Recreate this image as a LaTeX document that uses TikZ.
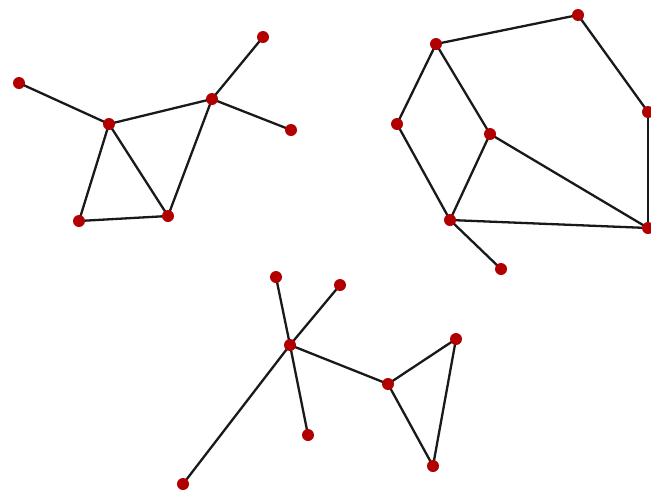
\documentclass[tikz,border=0pt]{standalone}
\begin{document}
\begin{tikzpicture}[x=1pt,y=-1pt,
  vtx/.style={circle,inner sep=0pt,minimum size=12pt},
  edge/.style={black!90,line width=2.3pt}]
  \useasboundingbox (0,0) rectangle (651,496);
  % left graph
  \node[vtx] (a1) at (19,83) {};  \node[vtx] (a2) at (109,124) {};
  \node[vtx] (a3) at (212,99) {}; \node[vtx] (a4) at (263,37) {};
  \node[vtx] (a5) at (291,130) {};\node[vtx] (a6) at (79,221) {};
  \node[vtx] (a7) at (168,216) {};
  \foreach \u/\v in {a1/a2,a2/a3,a3/a4,a3/a5,a2/a6,a2/a7,a6/a7,a3/a7}
    \draw[edge] (\u.center)--(\v.center);
  % right graph
  \node[vtx] (b1) at (436,44) {};  \node[vtx] (b2) at (578,15) {};
  \node[vtx] (b3) at (648,112) {}; \node[vtx] (b4) at (397,124) {};
  \node[vtx] (b5) at (490,134) {}; \node[vtx] (b6) at (450,220) {};
  \node[vtx] (b7) at (648,228) {}; \node[vtx] (b8) at (501,269) {};
  \foreach \u/\v in {b1/b2,b2/b3,b3/b7,b1/b4,b1/b5,b4/b6,b5/b6,b5/b7,b6/b7,b6/b8}
    \draw[edge] (\u.center)--(\v.center);
  % bottom graph
  \node[vtx] (c1) at (276,277) {}; \node[vtx] (c2) at (340,285) {};
  \node[vtx] (c3) at (290,345) {}; \node[vtx] (c4) at (456,339) {};
  \node[vtx] (c5) at (388,384) {}; \node[vtx] (c6) at (308,435) {};
  \node[vtx] (c7) at (433,466) {}; \node[vtx] (c8) at (183,484) {};
  \foreach \u/\v in {c1/c3,c2/c3,c3/c5,c3/c6,c3/c8,c4/c5,c5/c7,c4/c7}
    \draw[edge] (\u.center)--(\v.center);
  % dots on top
  \foreach \n in {a1,a2,a3,a4,a5,a6,a7,b1,b2,b3,b4,b5,b6,b7,b8,c1,c2,c3,c4,c5,c6,c7,c8}
    \fill[red!70!black] (\n) circle(6pt);
\end{tikzpicture}
\end{document}
